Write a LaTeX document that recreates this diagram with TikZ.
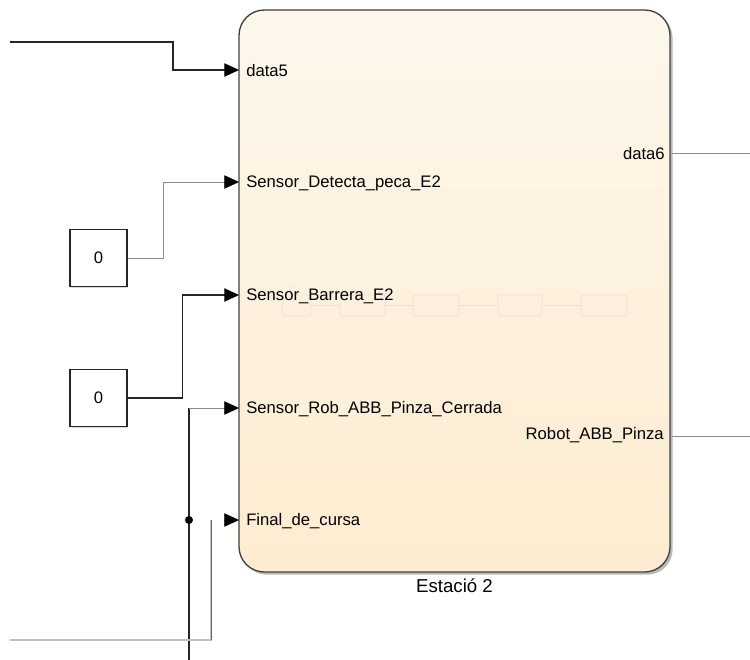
\documentclass[tikz,border=0pt]{standalone}
\usepackage{fontspec}
\setmainfont{Liberation Sans}
\usetikzlibrary{positioning, arrows.meta, shadows}

\definecolor{chartTop}{RGB}{253,247,236}
\definecolor{chartBot}{RGB}{253,236,208}
\newcommand\portfont{\fontsize{12.5}{14}\selectfont}

\begin{document}
\begin{tikzpicture}[
  x=0.75pt, y=-0.75pt,
  chart/.style={rectangle, draw=black!75, line width=1pt, rounded corners=19pt,
    top color=chartTop, bottom color=chartBot, minimum width=323.25pt, minimum height=421.5pt,
    drop shadow={shadow xshift=2pt, shadow yshift=-2pt, opacity=0.55}},
  constbox/.style={rectangle, draw=black!85, line width=0.9pt, fill=white, minimum size=42.75pt,
    inner sep=0pt, font=\portfont, drop shadow={shadow xshift=1pt, shadow yshift=-1pt, opacity=0.3}},
  ghostbox/.style={rectangle, draw=black!12, line width=0.5pt, rounded corners=2pt,
    minimum height=15.75pt, inner sep=0pt},
  ghostline/.style={draw=black!12, line width=0.5pt},
  inport/.style={anchor=west, inner sep=0pt, font=\portfont},
  outport/.style={anchor=east, inner sep=0pt, font=\portfont},
  wire/.style={draw=black!45, line width=0.6pt},
  bus/.style={draw=black!85, line width=0.9pt},
  sig/.style={-{Triangle[length=11pt, width=10pt, color=black]}}
]
  \useasboundingbox (0,0) rectangle (750,660);

  % Subsistema Estacio 2
  \node[chart] (st2) at (454.5,291) {};
  \node[below=1pt of st2, font=\fontsize{14}{16}\selectfont] (st2name) {Estació 2};

  % Contingut intern (esborrat)
  \foreach \n/\cx/\w in {1/296.5/29, 2/362.5/45, 3/436/46, 4/520/44, 5/604/46}
    \node[ghostbox, minimum width={\w*0.75pt}] (g\n) at (\cx,305.5) {};
  \foreach \a/\b in {1/2, 2/3, 3/4, 4/5}
    \draw[ghostline] (g\a) -- (g\b);
  \coordinate (gt) at (290,286);
  \draw[ghostline] (gt) -- (gt |- g1.north);

  % Ports d'entrada
  \coordinate (in1) at (239,70);
  \coordinate (in2) at (239,182);
  \coordinate (in3) at (239,295);
  \coordinate (in4) at (239,408);
  \coordinate (in5) at (239,520);
  \node[inport] (p1) at (246,71) {data5};
  \node[inport] (p2) at (246,183) {Sensor\_Detecta\_peca\_E2};
  \node[inport] (p3) at (246,296) {Sensor\_Barrera\_E2};
  \node[inport] (p4) at (246,409) {Sensor\_Rob\_ABB\_Pinza\_Cerrada};
  \node[inport] (p5) at (246,521) {Final\_de\_cursa};

  % Ports de sortida
  \coordinate (out1) at (670,153);
  \coordinate (out2) at (670,436);
  \node[outport] (q1) at (665,154) {data6};
  \node[outport] (q2) at (664,435) {Robot\_ABB\_Pinza};
  \coordinate (snk1) at (750,153);
  \coordinate (snk2) at (750,436);
  \draw[wire] (out1) -- (snk1);
  \draw[wire] (out2) -- (snk2);

  % Constants
  \node[constbox] (c1) at (98.5,258) {0};
  \node[constbox] (c2) at (98.5,398) {0};

  % Senyals
  \coordinate (src1) at (10,42);
  \draw[bus, sig] (src1) -- ++(163,0) |- (in1);
  \draw[wire, sig] (c1.east) -- ++(36,0) |- (in2);
  \draw[bus, sig] (c2.east) -- ++(55,0) |- (in3);

  \coordinate (bustop) at (189,408);
  \coordinate (busbot) at (189,660);
  \coordinate (jn) at (189,520);
  \draw[bus] (busbot) -- (bustop);
  \draw[wire, sig] (bustop) -- (in4);
  \fill[black] (jn) circle (3pt);

  \coordinate (fin5) at (211,520);
  \coordinate (src5) at (10,640);
  \coordinate (tip5) at (224,520);
  \draw[draw=black!25, line width=0.8pt] (src5) -| (fin5);
  \draw[draw=black!60, line width=0.7pt] (fin5) -- (fin5 |- src5);
  \draw[wire, sig] (tip5) -- (in5);
\end{tikzpicture}
\end{document}
